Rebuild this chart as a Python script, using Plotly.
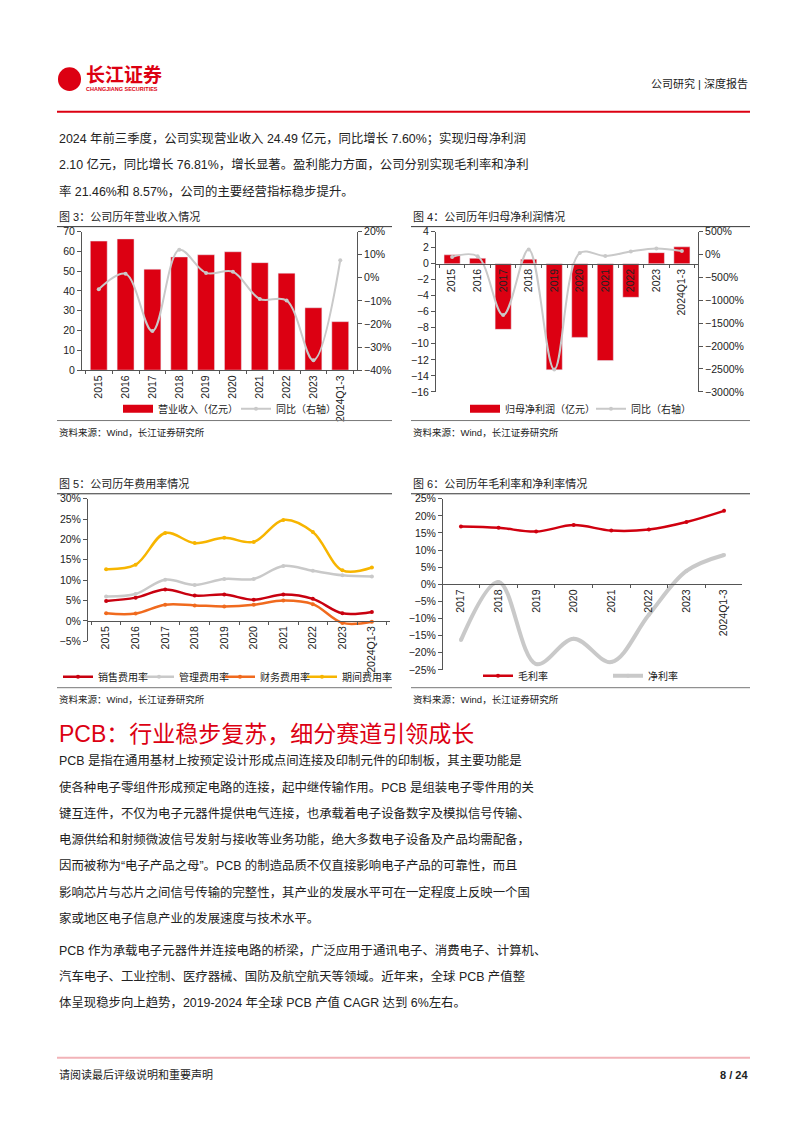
import plotly.graph_objects as go

# ---------------- data ----------------
years = ['2015', '2016', '2017', '2018', '2019', '2020', '2021', '2022', '2023', '2024Q1-3']
revenue = [65.2, 66.3, 51.0, 57.2, 58.3, 59.8, 54.3, 49.0, 31.5, 24.49]
revenue_yoy = [-0.05, 0.017, -0.231, 0.121, 0.021, 0.026, -0.092, -0.098, -0.357, 0.076]

net_profit = [1.10, 0.67, -8.20, 0.55, -13.25, -9.20, -12.10, -4.20, 1.37, 2.10]
net_profit_yoy = [-0.55, -0.39, -13.24, 1.07, -25.1, 0.31, -0.32, 0.65, 1.33, 0.768]

sales_rate = [0.049, 0.057, 0.077, 0.062, 0.0645, 0.052, 0.0645, 0.054, 0.0185, 0.022]
admin_rate = [0.060, 0.066, 0.101, 0.088, 0.103, 0.103, 0.135, 0.123, 0.112, 0.109]
finance_rate = [0.0185, 0.018, 0.0395, 0.038, 0.0355, 0.0395, 0.050, 0.041, -0.005, -0.002]
period_rate = [0.127, 0.138, 0.216, 0.191, 0.204, 0.194, 0.248, 0.218, 0.124, 0.131]

years_margin = ['2017', '2018', '2019', '2020', '2021', '2022', '2023', '2024Q1-3']
gross_margin = [0.169, 0.165, 0.154, 0.173, 0.157, 0.160, 0.182, 0.2146]
net_margin = [-0.163, 0.007, -0.233, -0.159, -0.227, -0.089, 0.039, 0.0857]

# ---------------- helpers ----------------
W, H = 802, 1133
FONT = 'Liberation Sans, Arial, Noto Sans CJK SC, sans-serif'
RED = '#dc0012'
GRAY = '#c9c9c9'
ORANGE = '#f06a1e'
YELLOW = '#f7b500'
TXT = '#222222'


def px(x):
    return x / W


def py(y):
    return 1 - y / H


def zero_pos(lo, hi, top, bottom):
    # paper y of value 0 on an axis spanning [lo, hi] drawn between pixel rows top..bottom
    return py(bottom) + (0 - lo) / (hi - lo) * (py(top) - py(bottom))


annotations = []
shapes = []
legends = {}


def note(x, y, text, size=12.4, color=TXT, xanchor='left', bold=False):
    if bold:
        text = '<b>' + text + '</b>'
    annotations.append(dict(x=px(x), y=py(y), xref='paper', yref='paper', text=text,
                            showarrow=False, xanchor=xanchor, yanchor='middle',
                            font=dict(size=size, color=color, family=FONT)))


def hline(x0, x1, y, color='#333333', width=1):
    shapes.append(dict(type='line', xref='paper', yref='paper', x0=px(x0), x1=px(x1),
                       y0=py(y), y1=py(y), line=dict(color=color, width=width)))


def legend_at(x, y):
    # one legend box per entry so each can sit where the reference puts it
    key = 'legend' if not legends else 'legend%d' % (len(legends) + 1)
    legends[key] = dict(x=px(x), y=py(y), xanchor='left', yanchor='middle', orientation='h',
                        bgcolor='rgba(0,0,0,0)', itemwidth=30,
                        font=dict(size=10, color=TXT, family=FONT))
    return key


axis_style = dict(showline=True, linecolor='#555555', linewidth=1, ticks='outside', ticklen=4,
                  tickcolor='#555555', showgrid=False, zeroline=False,
                  tickfont=dict(size=10.5, color=TXT, family=FONT))
cat_style = dict(axis_style, tickangle=-90, type='category', tickson='boundaries', ticklen=3)

fig = go.Figure()


def line_trace(x, y, name, color, width, xa, ya, leg):
    return go.Scatter(x=x, y=y, name=name, mode='lines+markers',
                      line=dict(color=color, width=width, shape='spline'),
                      marker=dict(size=4, color=color), xaxis=xa, yaxis=ya, legend=leg)


def bar_key(name, xa, ya, leg):
    # wide red key like the reference legend
    return go.Scatter(x=[None], y=[None], name=name, mode='lines', line=dict(color=RED, width=8),
                      xaxis=xa, yaxis=ya, legend=leg)


# ---------------- chart 3: revenue ----------------
fig.add_trace(go.Bar(x=years, y=revenue, marker_color=RED, width=0.63, showlegend=False,
                     xaxis='x', yaxis='y'))
fig.add_trace(bar_key('营业收入（亿元）', 'x', 'y', legend_at(118, 407)))
fig.add_trace(line_trace(years, revenue_yoy, '同比（右轴）', GRAY, 2, 'x', 'y2', legend_at(236, 407)))

# ---------------- chart 4: net profit ----------------
fig.add_trace(go.Bar(x=years, y=net_profit, marker_color=RED, width=0.63, showlegend=False,
                     xaxis='x2', yaxis='y3'))
fig.add_trace(bar_key('归母净利润（亿元）', 'x2', 'y3', legend_at(465, 407)))
fig.add_trace(line_trace(years, net_profit_yoy, '同比（右轴）', GRAY, 2, 'x2', 'y4', legend_at(591, 407)))

# ---------------- chart 5: expense ratios ----------------
fig.add_trace(line_trace(years, sales_rate, '销售费用率', '#c8000f', 2.5, 'x3', 'y5', legend_at(58, 678)))
fig.add_trace(line_trace(years, admin_rate, '管理费用率', GRAY, 2.5, 'x3', 'y5', legend_at(139, 678)))
fig.add_trace(line_trace(years, finance_rate, '财务费用率', ORANGE, 2.5, 'x3', 'y5', legend_at(220, 678)))
fig.add_trace(line_trace(years, period_rate, '期间费用率', YELLOW, 2.5, 'x3', 'y5', legend_at(302, 678)))

# ---------------- chart 6: margins ----------------
fig.add_trace(line_trace(years_margin, gross_margin, '毛利率', '#d0000f', 2.5, 'x4', 'y6', legend_at(478, 677)))
fig.add_trace(line_trace(years_margin, net_margin, '净利率', GRAY, 4, 'x4', 'y6', legend_at(608, 677)))

# ---------------- axes ----------------
c1 = dict(l=82, r=357, t=228, b=368)
c2 = dict(l=436, r=698, t=228, b=390)
c3 = dict(l=88, r=390, t=498, b=642)
c4 = dict(l=443, r=742, t=498, b=671)


def dom_x(c):
    return [px(c['l']), px(c['r'])]


def dom_y(c):
    return [py(c['b']), py(c['t'])]


fig.update_layout(
    width=W, height=H, margin=dict(l=0, r=0, t=0, b=0),
    paper_bgcolor='white', plot_bgcolor='white',
    font=dict(family=FONT, color=TXT),
    barmode='overlay', showlegend=True,
    xaxis=dict(cat_style, domain=dom_x(c1), anchor='y'),
    yaxis=dict(axis_style, domain=dom_y(c1), range=[0, 70], dtick=10, anchor='x'),
    yaxis2=dict(axis_style, overlaying='y', side='right', anchor='x', range=[-0.4, 0.2], dtick=0.1,
                tickformat='.0%'),
    xaxis2=dict(cat_style, domain=dom_x(c2), anchor='free', position=zero_pos(-16, 4, c2['t'], c2['b'])),
    yaxis3=dict(axis_style, domain=dom_y(c2), range=[-16, 4], dtick=2, anchor='x2'),
    yaxis4=dict(axis_style, overlaying='y3', side='right', anchor='x2', range=[-30, 5], dtick=5,
                tickformat='.0%'),
    xaxis3=dict(cat_style, domain=dom_x(c3), anchor='free', position=zero_pos(-0.05, 0.30, c3['t'], c3['b'])),
    yaxis5=dict(axis_style, domain=dom_y(c3), range=[-0.05, 0.30], dtick=0.05, tickformat='.0%', anchor='x3'),
    xaxis4=dict(cat_style, domain=dom_x(c4), anchor='free', position=zero_pos(-0.25, 0.25, c4['t'], c4['b'])),
    yaxis6=dict(axis_style, domain=dom_y(c4), range=[-0.25, 0.25], dtick=0.05, tickformat='.0%', anchor='x4'),
)
fig.update_layout(**legends)

# ---------------- page furniture ----------------
shapes.append(dict(type='circle', xref='paper', yref='paper', x0=px(58), x1=px(81), y0=py(86), y1=py(62),
                   fillcolor=RED, line=dict(width=0)))
note(84, 70, '长江证券', size=19, color=RED, bold=True)
note(84, 84, 'CHANGJIANG SECURITIES', size=5.5, color=RED, bold=True)
note(750, 78, '公司研究 | 深度报告', size=11, xanchor='right')
hline(57, 750, 107, color=RED, width=2)

para1 = ['2024 年前三季度，公司实现营业收入 24.49 亿元，同比增长 7.60%；实现归母净利润',
         '2.10 亿元，同比增长 76.81%，增长显著。盈利能力方面，公司分别实现毛利率和净利',
         '率 21.46%和 8.57%，公司的主要经营指标稳步提升。']
for i, line in enumerate(para1):
    note(57, 134 + i * 26.5, line)

# chart titles / rules / sources
note(57, 213, '图 3：公司历年营业收入情况', size=11)
note(411, 213, '图 4：公司历年归母净利润情况', size=11)
hline(57, 392, 223)
hline(411, 750, 223)
hline(57, 392, 419, color='#777777')
hline(411, 750, 419, color='#777777')
note(57, 431, '资料来源：Wind，长江证券研究所', size=9.5)
note(411, 431, '资料来源：Wind，长江证券研究所', size=9.5)

note(57, 483, '图 5：公司历年费用率情况', size=11)
note(411, 483, '图 6：公司历年毛利率和净利率情况', size=11)
hline(57, 392, 493)
hline(411, 750, 493)
hline(57, 392, 689, color='#777777')
hline(411, 750, 689, color='#777777')
note(57, 701, '资料来源：Wind，长江证券研究所', size=9.5)
note(411, 701, '资料来源：Wind，长江证券研究所', size=9.5)

note(57, 736, 'PCB：行业稳步复苏，细分赛道引领成长', size=23, color=RED)

para2 = ['PCB 是指在通用基材上按预定设计形成点间连接及印制元件的印制板，其主要功能是',
         '使各种电子零组件形成预定电路的连接，起中继传输作用。PCB 是组装电子零件用的关',
         '键互连件，不仅为电子元器件提供电气连接，也承载着电子设备数字及模拟信号传输、',
         '电源供给和射频微波信号发射与接收等业务功能，绝大多数电子设备及产品均需配备，',
         '因而被称为“电子产品之母”。PCB 的制造品质不仅直接影响电子产品的可靠性，而且',
         '影响芯片与芯片之间信号传输的完整性，其产业的发展水平可在一定程度上反映一个国',
         '家或地区电子信息产业的发展速度与技术水平。']
for i, line in enumerate(para2):
    note(57, 763 + i * 26.5, line)

para3 = ['PCB 作为承载电子元器件并连接电路的桥梁，广泛应用于通讯电子、消费电子、计算机、',
         '汽车电子、工业控制、医疗器械、国防及航空航天等领域。近年来，全球 PCB 产值整',
         '体呈现稳步向上趋势，2019-2024 年全球 PCB 产值 CAGR 达到 6%左右。']
for i, line in enumerate(para3):
    note(57, 955 + i * 26.3, line)

hline(57, 750, 1063, color='#f2b3b8', width=2)
note(57, 1080, '请阅读最后评级说明和重要声明', size=11)
note(750, 1080, '8 / 24', size=11, xanchor='right', bold=True)

fig.update_layout(annotations=annotations, shapes=shapes)

fig.write_html("out.html", config={'displayModeBar': False},
               post_script="document.body.style.margin='0';")
